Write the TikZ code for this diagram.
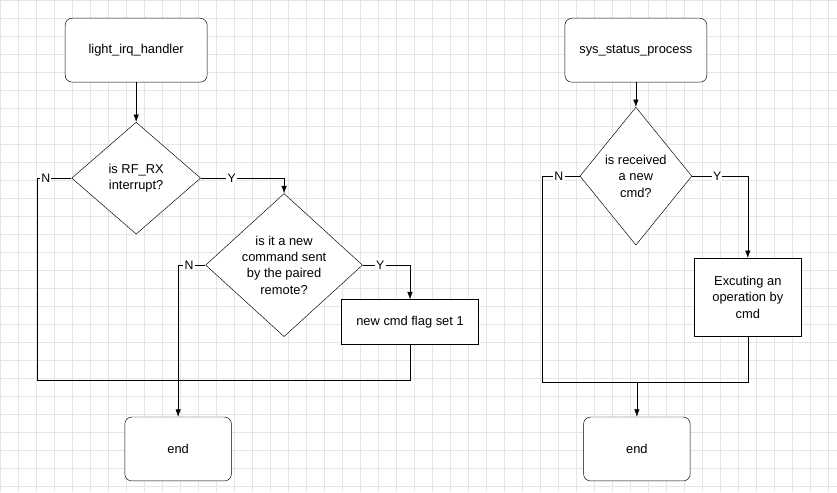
\documentclass[tikz,border=0pt]{standalone}
\usepackage{fontspec}
\setmainfont{Liberation Sans}
\usepackage{tikz}
\usetikzlibrary{shapes.geometric, arrows.meta, positioning, calc}
\tikzstyle{startstop} = [rectangle, rounded corners=6pt, minimum width=3.2cm, minimum height=1.92cm, text centered, draw=black, fill=white]
\tikzstyle{startstopb} = [rectangle, rounded corners=6pt, minimum width=4.26cm, minimum height=1.92cm, text centered, draw=black, fill=white]
\tikzstyle{decision} = [diamond, inner sep=0pt, align=center, draw=black, fill=white]
\tikzstyle{process} = [rectangle, align=center, draw=black, fill=white]
\tikzstyle{arrow} = [-{Latex[length=2.2mm,width=1.6mm]}]
\tikzstyle{yn} = [fill=white, inner sep=1pt, font=\fontsize{10.5}{12}\selectfont]

\begin{document}
\begin{tikzpicture}[x=0.03cm, y=-0.03cm, font=\fontsize{11}{14}\selectfont]
    % Background grid
    \fill[white] (0,0) rectangle (837,492);
    \draw[black!10, step=0.54cm] (0,0) grid (837,492);
    \useasboundingbox (0,0) rectangle (837,492);

    % Left chart
    \node (irq) [startstopb] at (136,50) {light\_irq\_handler};
    \node (rfrx) [decision, minimum width=3.87cm, minimum height=3.36cm] at (136,178) {is RF\_RX\\interrupt?};
    \node (newcmd) [decision, minimum width=4.71cm, minimum height=3.72cm] at (284,265) {is it a new\\command sent\\by the paired\\remote?};
    \node (flag) [process, minimum width=4.11cm, minimum height=1.35cm] at (410,322) {new cmd flag set 1};
    \node (end1) [startstop] at (178,449) {end};
    \coordinate (join1) at (410,380);

    % Right chart
    \node (sys) [startstopb] at (636,50) {sys\_status\_process};
    \node (recv) [decision, minimum width=3.36cm, minimum height=4.14cm] at (636,176) {is received\\a new\\cmd?};
    \node (exec) [process, minimum width=3.21cm, minimum height=2.34cm] at (748,297) {Excuting an\\operation by\\cmd};
    \node (end2) [startstop] at (637,449) {end};
    \coordinate (join2) at (637,382);

    % Arrows
    \draw [arrow] (irq) -- (rfrx);
    \draw [arrow] (rfrx.east) -- node[yn, pos=0.37] {Y} (284,178) -- (newcmd.north);
    \draw (rfrx.west) -- node[yn, pos=0.75] {N} (37,178) -- (37,380) -- (join1) -- (flag.south);
    \draw [arrow] (newcmd.west) -- node[yn, pos=0.6] {N} (178,265) -- (end1.north);
    \draw [arrow] (newcmd.east) -- node[yn, pos=0.37] {Y} (410,265) -- (flag.north);

    \draw [arrow] (sys) -- (recv);
    \draw [arrow] (recv.east) -- node[yn, pos=0.45] {Y} (748,176) -- (exec.north);
    \draw (recv.west) -- node[yn, pos=0.55] {N} (542,176) -- (542,382) -- (join2);
    \draw (exec.south) -- (748,382) -- (join2);
    \draw [arrow] (join2) -- (end2.north);
\end{tikzpicture}
\end{document}
